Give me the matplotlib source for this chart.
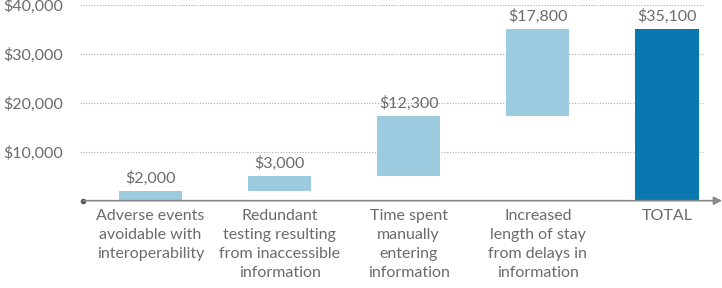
import matplotlib.pyplot as plt
import numpy as np

# Datos del gráfico (cascada)
categories = [
    "Adverse events\navoidable with\ninteroperability",
    "Redundant\ntesting resulting\nfrom inaccessible\ninformation",
    "Time spent\nmanually\nentering\ninformation",
    "Increased\nlength of stay\nfrom delays in\ninformation",
    "TOTAL",
]
increments = [2000, 3000, 12300, 17800]
total = 35100
value_labels = ["$2,000", "$3,000", "$12,300", "$17,800", "$35,100"]
yticks = [10000, 20000, 30000, 40000]
ytick_labels = ["$10,000", "$20,000", "$30,000", "$40,000"]

light = "#9ccbe0"
dark = "#0a78b0"
text_col = "#6b6b6b"

plt.rcParams["font.family"] = ["Lato", "DejaVu Sans"]

fig = plt.figure(figsize=(7.22, 2.88), dpi=100)
ax = fig.add_axes([80 / 722, 87.3 / 288, 642 / 722, 196 / 288])

# Barras flotantes
bottoms = np.concatenate([[0], np.cumsum(increments)[:-1]])
x = np.arange(len(categories))
ax.bar(x[:-1], increments, bottom=bottoms, width=0.49, color=light)
ax.bar(x[-1], total, width=0.49, color=dark)

tops = list(bottoms + np.array(increments)) + [total]
for xi, top, lab in zip(x, tops, value_labels):
    ax.annotate(lab, (xi, top), xytext=(0, 3.5), textcoords="offset points",
                ha="center", va="bottom", fontsize=11.5, color=text_col)

# Líneas de la rejilla
for yt in yticks:
    ax.plot([-0.546, 4.28], [yt, yt], color="#aaaaaa", lw=0.8,
            linestyle=(0, (1, 1.5)), zorder=0)

ax.set_xlim(-0.546, 4.427)
ax.set_ylim(0, 196 / 4.9 * 1000)

ax.set_yticks(yticks)
ax.set_yticklabels(ytick_labels, fontsize=11.5, color=text_col)
ax.tick_params(axis="y", length=0, pad=12)
ax.set_xticks(x)
ax.set_xticklabels(categories, fontsize=11.5, color=text_col, linespacing=1.45, va="top")
ax.tick_params(axis="x", length=0, pad=6)

for s in ax.spines.values():
    s.set_visible(False)

# Eje horizontal con flecha
ax.annotate("", xy=(1.0, 0), xytext=(0.005, 0), xycoords="axes fraction",
            arrowprops=dict(arrowstyle="-|>", color="#888888", lw=1.2,
                            mutation_scale=12, shrinkA=0, shrinkB=0))
ax.plot([0.005], [0], marker="o", ms=3, color="#555555", transform=ax.transAxes,
        clip_on=False)

fig.savefig("out.png", dpi=100)
